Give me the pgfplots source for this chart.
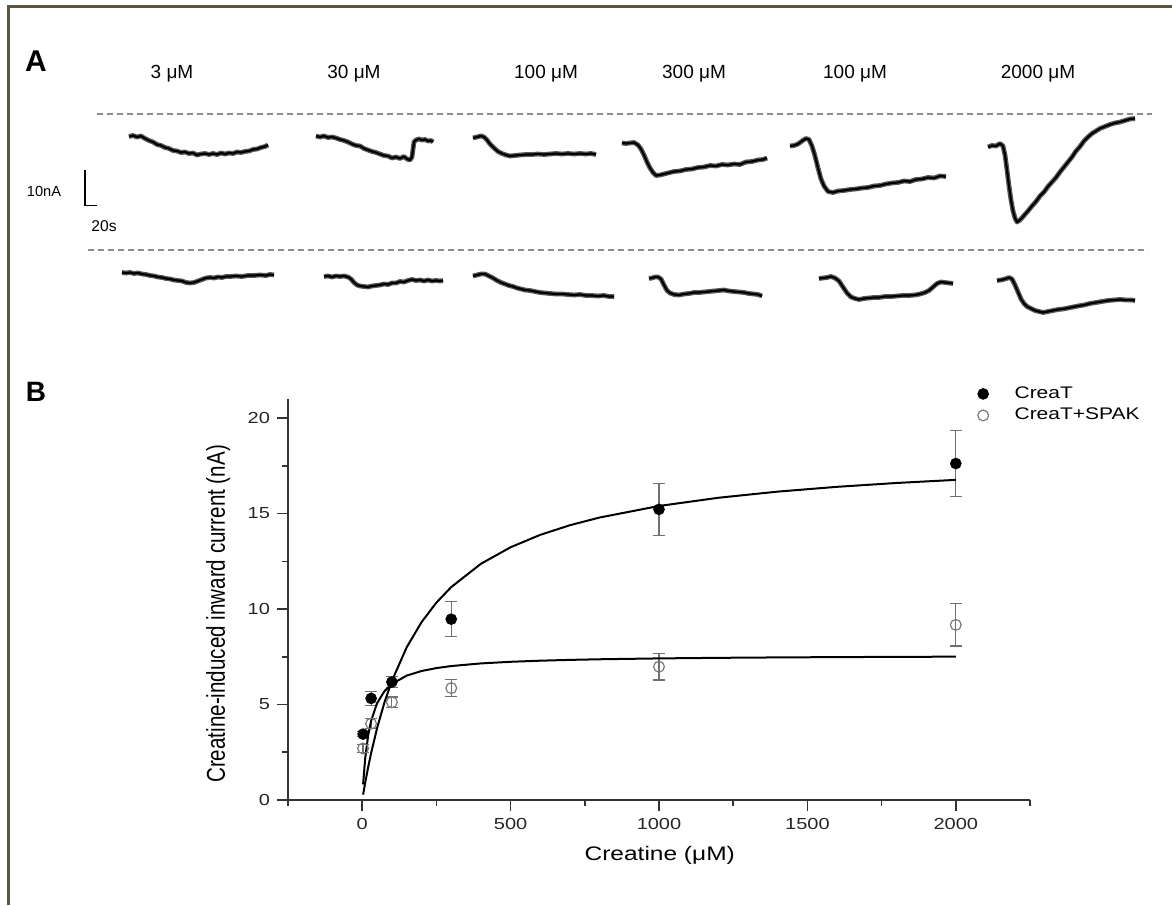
\documentclass[border=0pt]{standalone}
\usepackage{graphicx}
\usepackage{pgfplots}
\pgfplotsset{compat=1.18}
\usepackage{fontspec}
\setmainfont{Liberation Sans}
\newfontfamily\widefont[FakeStretch=1.25]{Liberation Sans}

\definecolor{framecol}{HTML}{5B5640}
\definecolor{axiscol}{HTML}{333333}
\definecolor{dashcol}{HTML}{8C8C8C}
\definecolor{errcol}{HTML}{707070}
\definecolor{opencol}{HTML}{7A7A7A}

% noisy current traces: black core on a dark grey halo
\pgfplotsset{
  trace/.style={black, line width=1.1pt, line join=round,
    preaction={draw, black!65, line width=2.4pt, line join=round}},
}

\begin{document}
\begin{tikzpicture}
\useasboundingbox (0,0) rectangle (586pt,452.5pt);

% ---------- panel A, drawn in pixel units of the figure ----------
\begin{axis}[
    at={(0,0)}, anchor=south west,
    width=586pt, height=452.5pt, scale only axis,
    xmin=0, xmax=1172, ymin=0, ymax=905, y dir=reverse,
    hide axis, clip=false,
]
% frame
\addplot[framecol, line width=1.5pt] coordinates {(8,905) (8,6) (1172,6)};

% baselines
\addplot[dashcol, line width=0.7pt, dash pattern=on 3pt off 2pt] coordinates {(97,114) (1152,114)};
\addplot[dashcol, line width=0.7pt, dash pattern=on 3pt off 2pt] coordinates {(88,250) (1148,250)};

% upper row (CreaT)
\addplot[trace] coordinates {(129,136.5)(133,135.5)(137,137)(141,136)(145,138.5)(149,140.5)(153,142)(157,144.5)(161,145.5)(165,147.5)(169,148.5)(173,150.5)(177,151)(181,152.5)(185,152)(189,153.5)(193,153)(197,155)(201,154)(205,153.5)(209,154.5)(213,153.5)(217,154.5)(221,153)(225,154)(229,153)(233,153.5)(237,152)(241,152.5)(245,151.5)(249,151)(253,149.5)(257,149)(261,147.5)(265,146.5)(268,145)};
\addplot[trace] coordinates {(316,136)(320,137)(324,136)(328,137.5)(332,137)(336,138)(340,139.5)(344,140.5)(348,142)(352,144)(356,145.5)(360,146)(364,148.5)(368,150)(372,151.5)(376,152.5)(380,154)(384,155.5)(388,156)(392,158)(396,157)(400,158.5)(404,156.5)(407,159)(410,160)(412,157)(413,149)(414,142)(416,140)(419,139)(422,140)(425,139.5)(428,141)(431,140.5)(433,142)};
\addplot[trace] coordinates {(473,138)(477,137)(481,136)(484,137)(487,140)(490,144)(494,148)(498,151.5)(502,153.5)(506,155)(510,156)(515,155.5)(520,155)(526,154.5)(532,154.5)(538,154)(544,154.5)(550,154)(556,153.5)(562,154)(568,153.5)(574,154)(580,153.5)(586,154)(591,153.5)(596,154.5)};
\addplot[trace] coordinates {(622,143)(626,143.5)(630,143)(634,142.5)(638,145)(641,149)(644,155)(647,162)(650,168)(653,172.5)(656,175.5)(660,175)(664,174)(668,173)(674,171.5)(680,171)(686,169.5)(692,169)(698,167.5)(704,167)(710,165.5)(716,166)(722,164.5)(728,165)(734,164)(740,164.5)(746,162)(752,161.5)(758,160)(763,159.5)(767,158)};
\addplot[trace] coordinates {(790,146)(794,145.5)(798,144)(802,141)(806,138.5)(809,139.5)(812,146)(815,156)(818,168)(821,179)(824,186)(828,191.5)(833,192.5)(838,191)(844,190.5)(850,189.5)(856,189)(862,188)(868,187.5)(874,186)(880,185.5)(886,184)(892,183)(898,182.5)(904,181)(910,181.5)(916,179.5)(922,179)(928,177.5)(934,178)(940,176)(946,176.5)};
\addplot[trace] coordinates {(988,147)(992,145.5)(996,146)(1000,143.5)(1003,146)(1005,155)(1007,170)(1009,186)(1011,200)(1013,211)(1015,218)(1017,222)(1020,220)(1024,215.5)(1028,211)(1032,206)(1036,201.5)(1040,196)(1044,192)(1048,186.5)(1052,182)(1056,177.5)(1060,172)(1064,167)(1068,162)(1072,157)(1076,151)(1080,146.5)(1084,141)(1088,137)(1092,133.5)(1096,131)(1100,128.5)(1105,126.5)(1110,124.5)(1115,123)(1120,122)(1125,120.5)(1130,119)(1135,118.5)};

% lower row (CreaT+SPAK)
\addplot[trace] coordinates {(122,272.5)(126,273)(130,272.5)(134,273.5)(138,273)(142,274)(146,274.5)(150,275.5)(154,276)(158,277)(162,277.5)(166,278.5)(170,279)(174,280)(178,280.5)(182,281)(186,282.5)(190,283)(194,282.5)(198,281)(202,279.5)(206,278)(210,277.5)(214,278)(218,277)(222,277.5)(226,276.5)(230,276.5)(236,276)(242,276.5)(248,275.5)(254,275.5)(260,275)(266,275.5)(270,274.5)(274,275)};
\addplot[trace] coordinates {(324,276.5)(328,276)(332,277)(336,276)(340,276.5)(344,276)(348,277)(351,279)(354,282.5)(357,285)(360,286)(364,286.5)(368,287)(372,286)(376,285.5)(380,285)(384,284)(388,284.5)(392,283)(396,283)(400,281.5)(404,282)(408,280.5)(412,279.5)(416,280.5)(420,280)(424,281)(428,280)(432,281)(436,280.5)(440,281)(443,280.5)};
\addplot[trace] coordinates {(473,276)(477,275)(481,274)(485,274)(489,276)(493,278)(497,280.5)(501,282.5)(505,284)(509,285.5)(513,286.5)(517,288)(521,289)(525,290)(530,290.5)(535,291.5)(540,292.5)(545,293)(550,293.5)(556,294)(562,294)(568,294.5)(574,295)(580,294.5)(586,295.5)(592,295.5)(598,296)(604,295.5)(609,296.5)(614,296.5)};
\addplot[trace] coordinates {(649,278.5)(652,278)(655,277)(658,277)(661,279)(664,285)(667,290.5)(670,293)(674,294.5)(679,295)(684,294)(689,293.5)(694,292.5)(699,292.5)(704,292)(709,291.5)(714,291)(719,290.5)(724,290)(729,291)(734,291.5)(739,292)(744,292.5)(749,293.5)(754,294)(758,294.5)(762,296)};
\addplot[trace] coordinates {(819,278.5)(823,278)(827,277.5)(831,276.5)(835,278)(839,281)(843,287)(847,293)(851,297)(855,298.5)(859,299.5)(864,298.5)(869,298)(874,297.5)(879,297.5)(885,296.5)(891,296.5)(897,296)(903,295.5)(909,295.5)(915,295)(920,294)(925,292.5)(929,290.5)(933,287)(937,283.5)(941,282)(945,282.5)(949,283)(953,283.5)};
\addplot[trace] coordinates {(997,280.5)(1001,280)(1005,279)(1009,277.5)(1012,279)(1015,285)(1018,292)(1021,299)(1024,303.5)(1027,306.5)(1031,308.5)(1035,310.5)(1039,311.5)(1043,312.5)(1048,311.5)(1053,310.5)(1058,309.5)(1063,309)(1068,308)(1073,307)(1078,306)(1084,305)(1090,303.5)(1096,302.5)(1102,301.5)(1108,300.5)(1114,300)(1120,299.5)(1126,300)(1131,300)(1135,300.5)};

% scale bar
\addplot[black, line width=0.6pt] coordinates {(85,170) (85,205.7) (97,205.7)};

\node[font=\bfseries\fontsize{15}{18}\selectfont] at (axis cs:36,61) {A};
\node[font=\bfseries\fontsize{14}{17}\selectfont] at (axis cs:36,392) {B};
\node[font=\fontsize{7.3}{9}\selectfont] at (axis cs:44,191) {10nA};
\node[font=\fontsize{7.8}{9}\selectfont] at (axis cs:104,226) {20s};
\foreach \xx/\lab in {172/3, 354/30, 546/100, 694/300, 855/100, 1038/2000}
  {\edef\temp{\noexpand\node[font=\noexpand\fontsize{9.5}{11}\noexpand\selectfont] at (axis cs:\xx,73.5) {\lab\ μM};}\temp}
\end{axis}

% ---------- panel B ----------
\begin{axis}[
    at={(144pt,52.5pt)}, anchor=south west,
    width=371pt, height=200.5pt, scale only axis,
    xmin=-250, xmax=2250, ymin=0, ymax=21,
    axis lines=left,
    axis line style={-, axiscol, line width=1pt},
    tick align=outside,
    major tick length=5.5pt, minor tick length=3pt,
    tick style={axiscol, line width=0.8pt},
    xtick={0,500,...,2000}, minor xtick={-250,250,750,1250,1750,2250},
    ytick={0,5,...,20}, minor ytick={2.5,7.5,12.5,17.5},
    /pgf/number format/assume math mode=true,
    /pgf/number format/1000 sep={},
    tick label style={font=\widefont\fontsize{8}{9.6}\selectfont, text=black!85},
    xlabel={Creatine (μM)},
    xlabel style={font=\widefont\fontsize{9.8}{11}\selectfont, at={(axis description cs:0.501,-0.137)}, anchor=center},
    ylabel={\scalebox{1}[1.25]{Creatine-induced inward current (nA)}},
    ylabel style={font=\fontsize{10.3}{12}\selectfont, at={(axis description cs:-0.094,0.464)}, anchor=center},
    clip=false,
    legend style={draw=none, fill=none, at={(axis description cs:0.921,1.052)}, anchor=north west,
      font=\widefont\fontsize{8.4}{10}\selectfont, row sep=-0.6pt,
      /tikz/every odd column/.append style={column sep=11pt}},
    legend cell align=left,
]
\addplot[only marks, mark=*, mark size=2.7pt, black, mark options={fill=black},
  error bars/.cd, y dir=both, y explicit,
  error bar style={errcol, line width=0.6pt},
  error mark options={rotate=90, mark size=3pt, errcol, line width=0.6pt}]
  table[x=x, y=y, y error=e] {
  x    y     e
  3    3.45  0.12
  30   5.32  0.38
  100  6.18  0.28
  300  9.47  0.92
  1000 15.22 1.35
  2000 17.62 1.72
};
\addlegendentry{CreaT}
\addplot[only marks, mark=o, mark size=2.7pt, opencol, mark options={fill=white, line width=0.6pt},
  error bars/.cd, y dir=both, y explicit,
  error bar style={errcol, line width=0.6pt},
  error mark options={rotate=90, mark size=3pt, errcol, line width=0.6pt}]
  table[x=x, y=y, y error=e] {
  x    y     e
  3    2.70  0.20
  30   4.00  0.27
  100  5.12  0.27
  300  5.86  0.45
  1000 6.98  0.70
  2000 9.17  1.10
};
\addlegendentry{CreaT+SPAK}

% fitted curves
\addplot[black, line width=1pt, forget plot] coordinates {
  (3,0.279)(10,0.898)(20,1.712)(30,2.453)(50,3.755)(75,5.111)(100,6.237)
  (150,8.0)(200,9.316)(250,10.337)(300,11.152)(400,12.370)(500,13.237)
  (600,13.887)(700,14.391)(800,14.794)(1000,15.397)(1200,15.828)
  (1400,16.150)(1600,16.401)(1800,16.602)(2000,16.765)};
\addplot[black, line width=1pt, forget plot] coordinates {
  (3,0.814)(10,2.171)(20,3.378)(30,4.145)(50,5.067)(75,5.7)(100,6.08)
  (150,6.514)(200,6.756)(250,6.909)(300,7.015)(400,7.153)(500,7.238)
  (600,7.296)(700,7.338)(800,7.370)(1000,7.415)(1200,7.445)
  (1400,7.467)(1600,7.483)(1800,7.496)(2000,7.506)};
\end{axis}
\end{tikzpicture}
\end{document}
